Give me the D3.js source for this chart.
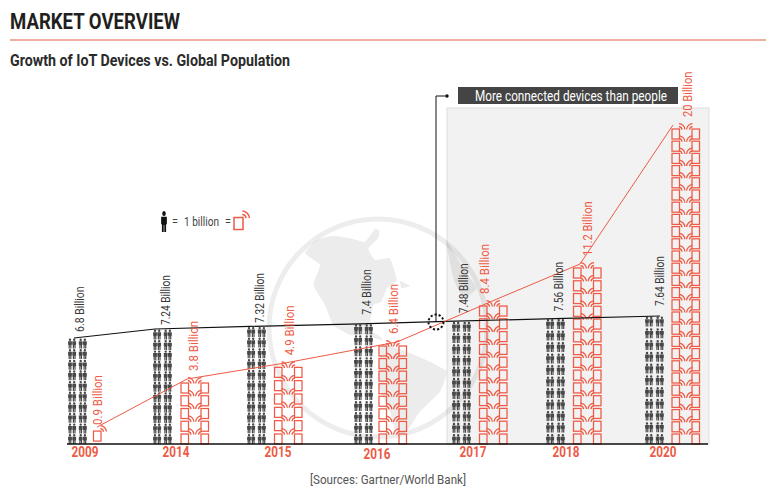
<!DOCTYPE html>
<html><head><meta charset="utf-8">
<script src="https://cdn.jsdelivr.net/npm/d3@7/dist/d3.min.js"></script>
<style>html,body{margin:0;padding:0;background:#fff}svg{display:block}text{font-family:Roboto,sans-serif}</style>
</head><body><svg id="c" width="778" height="493"></svg>
<script>
const years = ["2009","2014","2015","2016","2017","2018","2020"];
const population = [6.8,7.24,7.32,7.4,7.48,7.56,7.64];
const devices = [0.9,3.8,4.9,6.4,8.4,11.2,20];
const personRows = [10,11,11,11,11,11,11];
const deviceRows = [1,5,6,8,11,14,26];
const popLabels = ["6.8 Billion","7.24 Billion","7.32 Billion","7.4 Billion","7.48 Billion","7.56 Billion","7.64 Billion"];
const devLabels = ["0.9 Billion","3.8 Billion","4.9 Billion","6.4 Billion","8.4 Billion","11.2 Billion","20 Billion"];

const RED="#ee5a45", DARK="#484848", BASE=444;
const svg=d3.select("#c");
const xPeople=d3.scaleOrdinal().domain(years).range([68,153,247,354,452,546,645]);
const xDevice=d3.scaleOrdinal().domain(years).range([93.5,181,274.5,379,479.5,573.5,672]);
const xPopLine=d3.scaleOrdinal().domain(years).range([74,155,250,360,455,555,660]);
const xDevLine=d3.scaleOrdinal().domain(years).range([97,187,283,397,490,580,673]);
const xPopLabel=d3.scaleOrdinal().domain(years).range([80,166,260,367,464,559,660]);
const xDevLabel=d3.scaleOrdinal().domain(years).range([98,194,290,394,485,588,688]);
const xYear=d3.scaleOrdinal().domain(years).range([84.5,175.5,277.5,376.5,472.5,565.5,662.5]);
const popGap=d3.scaleOrdinal().domain(years).range([6,4,3.5,9,8,7,10]);
const yPop=d3.scaleLinear().domain([6.8,7.24,7.64]).range([338,329,316]);
const yDev=d3.scaleLinear().domain([0,3.8,6.4,8.4,11.2,20]).range([442,379,342,302,264,125]);

function label(g,str,len,size,fill,weight){
  return g.append("text").text(str).attr("textLength",len).attr("lengthAdjust","spacingAndGlyphs")
    .attr("font-size",size).attr("fill",fill).attr("font-weight",weight||400);
}
// header
label(svg,"MARKET OVERVIEW",170,21.5,"#231f20",700).attr("x",10).attr("y",29);
svg.append("line").attr("x1",10).attr("x2",766).attr("y1",40).attr("y2",40).attr("stroke","#e0604c").attr("stroke-width",1);
label(svg,"Growth of IoT Devices vs. Global Population",280,16,"#2b2b2b",700).attr("x",10).attr("y",65.5);

// highlighted panel
svg.append("rect").attr("x",447).attr("y",108).attr("width",262).attr("height",336).attr("fill","#f2f2f2").attr("stroke","#dedede");

// globe watermark
const globe=svg.append("g").attr("fill","#000").attr("fill-opacity",0.075);
globe.append("circle").attr("cx",378).attr("cy",328).attr("r",109).attr("fill","none").attr("stroke","#000").attr("stroke-opacity",0.07).attr("stroke-width",5);
const shapes=[
 [[165,145],[200,105],[250,92],[300,100],[345,110],[375,72],[388,78],[385,100],[355,130],[375,165],[420,160],[440,225],[410,250],[395,290],[370,300],[362,340],[358,385],[300,390],[250,360],[225,300],[190,240],[210,180]],
 [[395,420],[470,440],[540,470],[590,500],[570,560],[510,620],[470,680],[440,690],[420,620],[385,540]],
 [[590,110],[640,190],[680,250],[640,280],[610,220]],
 [[450,228],[480,242],[455,250]],
 [[340,385],[375,385],[400,405],[370,398]]
];
const blob=d3.line().x(d=>250+d[0]/3).y(d=>205+d[1]/3).curve(d3.curveCardinalClosed.tension(0.6));
globe.selectAll("path").data(shapes).join("path").attr("d",blob);

// icons
const personPath="M2 0a1.2 1.2 0 1 1 0 2.4a1.2 1.2 0 1 1 0-2.4ZM.1 2.7H3.9V6.3H3.4V10H2.2V6.7H1.8V10H.6V6.3H.1Z";
function drawPerson(g,x,y,kx,ky,fill){g.append("path").attr("d",personPath).attr("transform",`translate(${x},${y}) scale(${kx},${ky})`).attr("fill",fill||DARK);}
function drawDevice(g,x,y,mirror,k){
  const w=7.5,h=10;
  const d=g.append("g").attr("transform",`translate(${x+(mirror?w*k:0)},${y}) scale(${mirror?-k:k},${k})`)
    .attr("fill","none").attr("stroke",RED).attr("stroke-width",1.25);
  d.append("rect").attr("x",0).attr("y",0).attr("width",w).attr("height",h);
  [3.3,6.2].forEach(r=>d.append("path").attr("d",d3.arc()({innerRadius:r,outerRadius:r,startAngle:0.05,endAngle:Math.PI/2-0.05})).attr("transform",`translate(${w-0.8},0.8)`));
}

// people stacks
years.forEach((yr,i)=>{
  const top=yPop(population[i])+0.5, n=personRows[i], step=(BASE-top-10)/(n-1);
  d3.range(n).forEach(r=>[0,10.7].forEach(o=>[0,4.2].forEach(f=>drawPerson(svg,xPeople(yr)+o+f,top+r*step,1,1))));
});
// device stacks
years.forEach((yr,i)=>{
  const top=yDev(devices[i])+4, n=deviceRows[i], step=n>1?(BASE-top-10)/(n-1):0;
  const cols=n>1?[0,20]:[0];
  d3.range(n).forEach(r=>cols.forEach((o,c)=>drawDevice(svg,xDevice(yr)+o,top+r*step,c===1,1)));
});

// trend lines
const tbl=years.map((y,i)=>({y,p:population[i],d:devices[i],pl:popLabels[i],dl:devLabels[i],n:deviceRows[i]}));
svg.append("path").datum(tbl).attr("d",d3.line().x(d=>xPopLine(d.y)).y(d=>yPop(d.p))).attr("fill","none").attr("stroke","#111").attr("stroke-width",1.2);
svg.append("path").datum(tbl).attr("d",d3.line().x(d=>xDevLine(d.y)).y(d=>yDev(d.d))).attr("fill","none").attr("stroke",RED).attr("stroke-width",1);

// rotated value labels
tbl.forEach(d=>{
  label(svg,d.pl,d.pl.length*4.15,12.5,"#3a3a3a").attr("transform",`translate(${xPopLabel(d.y)+4},${yPop(d.p)-popGap(d.y)}) rotate(-90)`);
  label(svg,d.dl,d.dl.length*4.55,12.5,RED).attr("transform",`translate(${xDevLabel(d.y)+4},${yDev(d.d)-(d.n===1?2:8)}) rotate(-90)`);
});

// baseline and years
svg.append("line").attr("x1",67).attr("x2",708).attr("y1",BASE).attr("y2",BASE).attr("stroke","#111").attr("stroke-width",1.3);
const ax=svg.append("g").attr("transform","translate(0,"+BASE+")").call(d3.axisBottom(xYear).tickValues(years).tickSize(0).tickPadding(3));
ax.select(".domain").remove();
ax.selectAll("text").attr("fill",RED).attr("font-size",14).attr("font-weight",700).attr("font-family","Roboto,sans-serif").attr("textLength",27).attr("lengthAdjust","spacingAndGlyphs")
  .attr("dy",d=>d==="2016"?"0.88em":"0.71em");

// crossover marker and callout
svg.append("path").attr("d","M436 322V96H447").attr("fill","none").attr("stroke","#111").attr("stroke-width",1);
svg.append("circle").attr("cx",447).attr("cy",96).attr("r",1.7).attr("fill","#111");
svg.append("circle").attr("cx",436).attr("cy",322).attr("r",7.5).attr("fill","none").attr("stroke","#111").attr("stroke-width",2).attr("stroke-dasharray","2.2 2");
svg.append("rect").attr("x",458).attr("y",87).attr("width",220).attr("height",17).attr("fill","#444");
label(svg,"More connected devices than people",192,14,"#fff").attr("x",475).attr("y",100.5);

// legend
drawPerson(svg,161,211,1.5,2.1,"#111");
label(svg,"=",6,12,"#444").attr("x",172).attr("y",226);
label(svg,"1 billion",35,12,"#444").attr("x",184).attr("y",226);
label(svg,"=",6,12,"#444").attr("x",225).attr("y",226);
drawDevice(svg,234,217.5,false,1.2);

label(svg,"[Sources: Gartner/World Bank]",156,13,"#555").attr("x",310).attr("y",484);
</script></body></html>
